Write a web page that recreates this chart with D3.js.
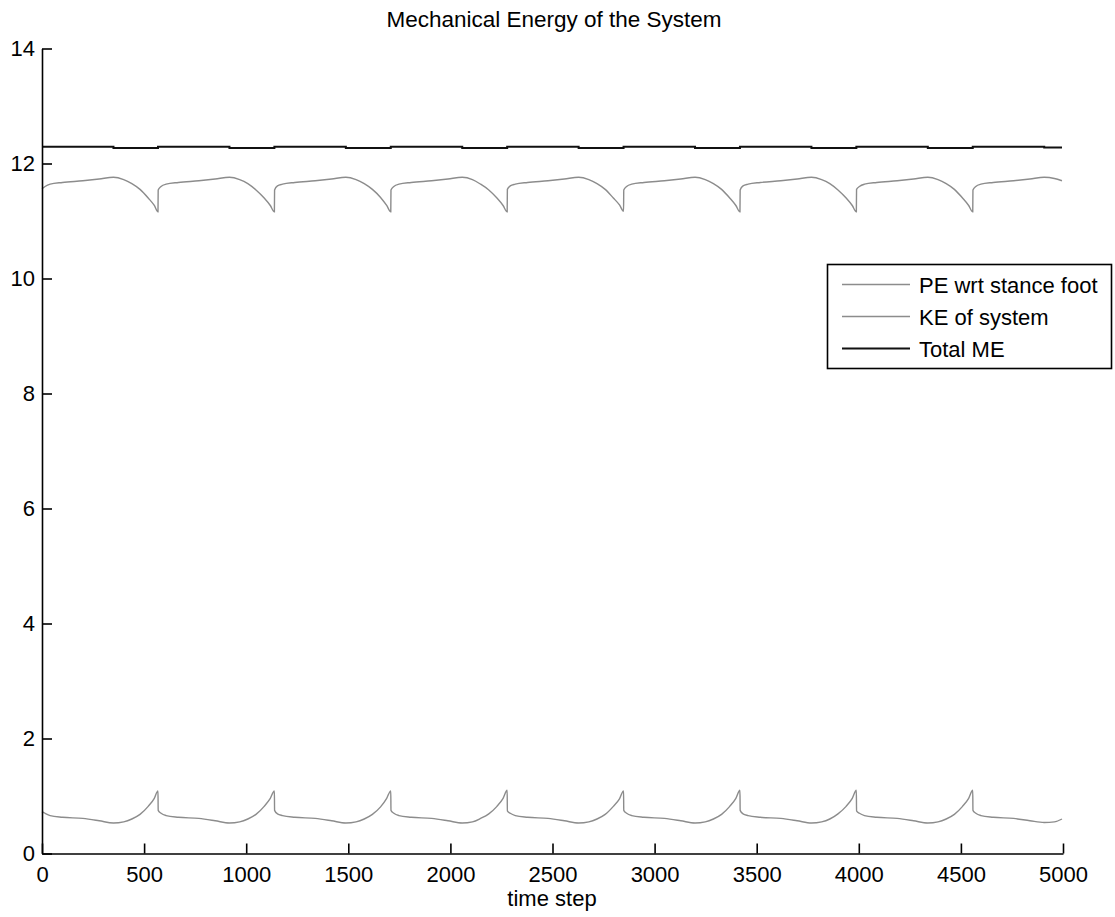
<!DOCTYPE html>
<html>
<head>
<meta charset="utf-8">
<script src="https://cdn.jsdelivr.net/npm/d3@7"></script>
<style>
  html, body { margin: 0; padding: 0; background: #fff; }
  svg { display: block; }
  text { font-family: "Liberation Sans", Arial, Helvetica, sans-serif; fill: #000; }
</style>
</head>
<body>
<svg id="chart" width="1115" height="917"></svg>
<script>
// ---- data ----
const chartTitle = "Mechanical Energy of the System";
const xLabel = "time step";
const seriesNames = ["PE wrt stance foot", "KE of system", "Total ME"];
const xTicks = [0, 500, 1000, 1500, 2000, 2500, 3000, 3500, 4000, 4500, 5000];
const yTicks = [0, 2, 4, 6, 8, 10, 12, 14];

// sample times shared by PE and KE
const timeSteps = [
  0, 15, 40, 100, 200, 280, 350, 400, 440, 480, 520, 550, 568,
  569, 583, 608, 668, 768, 848, 918, 968, 1008, 1048, 1088, 1118, 1138,
  1139, 1153, 1178, 1238, 1338, 1418, 1488, 1538, 1578, 1618, 1658, 1688, 1708,
  1709, 1723, 1748, 1808, 1908, 1988, 2058, 2108, 2148, 2188, 2228, 2258, 2278,
  2279, 2293, 2318, 2378, 2478, 2558, 2628, 2678, 2718, 2758, 2798, 2828, 2848,
  2849, 2863, 2888, 2948, 3048, 3128, 3198, 3248, 3288, 3328, 3368, 3398, 3418,
  3419, 3433, 3458, 3518, 3618, 3698, 3768, 3818, 3858, 3898, 3938, 3968, 3988,
  3989, 4003, 4028, 4088, 4188, 4268, 4338, 4388, 4428, 4468, 4508, 4538, 4558,
  4559, 4573, 4598, 4658, 4758, 4838, 4908, 4958, 4995
];

const peValues = [
  11.56, 11.60, 11.64, 11.67, 11.70, 11.73, 11.76, 11.72, 11.65, 11.55, 11.40, 11.27, 11.16,
  11.54, 11.60, 11.64, 11.67, 11.70, 11.73, 11.76, 11.72, 11.65, 11.54, 11.40, 11.27, 11.16,
  11.54, 11.61, 11.64, 11.67, 11.70, 11.73, 11.76, 11.72, 11.65, 11.55, 11.41, 11.27, 11.16,
  11.54, 11.60, 11.64, 11.67, 11.70, 11.73, 11.76, 11.72, 11.64, 11.54, 11.40, 11.27, 11.16,
  11.55, 11.61, 11.64, 11.67, 11.70, 11.73, 11.76, 11.72, 11.65, 11.55, 11.40, 11.28, 11.17,
  11.54, 11.60, 11.64, 11.67, 11.70, 11.73, 11.76, 11.72, 11.65, 11.55, 11.40, 11.27, 11.16,
  11.54, 11.61, 11.64, 11.67, 11.70, 11.73, 11.76, 11.72, 11.65, 11.54, 11.40, 11.27, 11.16,
  11.55, 11.60, 11.64, 11.67, 11.70, 11.73, 11.76, 11.72, 11.65, 11.55, 11.40, 11.27, 11.16,
  11.54, 11.60, 11.64, 11.67, 11.70, 11.73, 11.76, 11.74, 11.70
];

const keValues = [
  0.73, 0.70, 0.66, 0.63, 0.61, 0.57, 0.53, 0.55, 0.60, 0.68, 0.82, 0.96, 1.09,
  0.75, 0.70, 0.66, 0.63, 0.61, 0.57, 0.53, 0.55, 0.60, 0.68, 0.82, 0.96, 1.09,
  0.75, 0.69, 0.66, 0.63, 0.61, 0.57, 0.53, 0.55, 0.60, 0.68, 0.81, 0.96, 1.09,
  0.75, 0.70, 0.66, 0.63, 0.61, 0.57, 0.53, 0.55, 0.61, 0.69, 0.82, 0.96, 1.10,
  0.74, 0.70, 0.66, 0.63, 0.61, 0.57, 0.53, 0.55, 0.60, 0.68, 0.82, 0.95, 1.09,
  0.75, 0.70, 0.66, 0.63, 0.61, 0.57, 0.53, 0.55, 0.60, 0.68, 0.82, 0.96, 1.10,
  0.75, 0.69, 0.66, 0.63, 0.61, 0.57, 0.53, 0.55, 0.60, 0.69, 0.82, 0.96, 1.10,
  0.74, 0.70, 0.66, 0.63, 0.61, 0.57, 0.53, 0.55, 0.60, 0.68, 0.82, 0.96, 1.10,
  0.75, 0.70, 0.66, 0.63, 0.61, 0.57, 0.54, 0.55, 0.60
];

// total mechanical energy: step levels starting at each listed time
const meTimes = [
  0, 350, 568, 918, 1138, 1488, 1708, 2058, 2278, 2628, 2848, 3198,
  3418, 3768, 3988, 4338, 4558, 4908, 4995
];
const meValues = [
  12.29, 12.27, 12.29, 12.27, 12.29, 12.27, 12.29, 12.27, 12.29, 12.27, 12.29, 12.27,
  12.29, 12.27, 12.29, 12.27, 12.29, 12.28, 12.28
];

// ---- drawing ----
const svg = d3.select("#chart");
const W = 1115, H = 917;
const margin = { left: 42, right: 1115 - 1063, top: 48.5, bottom: 917 - 853.5 };

const x = d3.scaleLinear().domain([0, 5000]).range([margin.left, W - margin.right]);
const y = d3.scaleLinear().domain([0, 14]).range([H - margin.bottom, margin.top]);

svg.append("rect").attr("width", W).attr("height", H).attr("fill", "#fff");

const peData = timeSteps.map((t, i) => ({ t, v: peValues[i] }));
const keData = timeSteps.map((t, i) => ({ t, v: keValues[i] }));
const meData = meTimes.map((t, i) => ({ t, v: meValues[i] }));

const smooth = d3.line().x(d => x(d.t)).y(d => y(d.v)).curve(d3.curveMonotoneX);
const stepLine = d3.line().x(d => x(d.t)).y(d => y(d.v)).curve(d3.curveStepAfter);

const grey = "#8c8c8c";

svg.append("path").datum(peData).attr("d", smooth)
  .attr("fill", "none").attr("stroke", grey).attr("stroke-width", 1.4);
svg.append("path").datum(keData).attr("d", smooth)
  .attr("fill", "none").attr("stroke", grey).attr("stroke-width", 1.4);
svg.append("path").datum(meData).attr("d", stepLine)
  .attr("fill", "none").attr("stroke", "#111").attr("stroke-width", 2);

// axes
const fontSize = 22;
const yAxis = d3.axisLeft(y).tickValues(yTicks).tickFormat(d3.format("d"))
  .tickSizeInner(-10).tickSizeOuter(0).tickPadding(7);
const xAxis = d3.axisBottom(x).tickValues(xTicks).tickFormat(d3.format("d"))
  .tickSizeInner(-10).tickSizeOuter(0).tickPadding(12.5);

const gy = svg.append("g").attr("transform", `translate(${margin.left},0)`).call(yAxis);
const gx = svg.append("g").attr("transform", `translate(0,${H - margin.bottom})`).call(xAxis);
[gx, gy].forEach(g => {
  g.select(".domain").attr("stroke", "#000").attr("stroke-width", 1.6);
  g.selectAll(".tick line").attr("stroke", "#000").attr("stroke-width", 1.6);
  g.selectAll(".tick text").attr("font-size", fontSize)
    .attr("font-family", "'Liberation Sans', Arial, Helvetica, sans-serif").attr("fill", "#000");
});

// title and axis label
svg.append("text").attr("x", 554).attr("y", 27).attr("text-anchor", "middle")
  .attr("font-size", 22.5).text(chartTitle);
svg.append("text").attr("x", 552).attr("y", 906).attr("text-anchor", "middle")
  .attr("font-size", fontSize).text(xLabel);

// legend
const leg = svg.append("g");
leg.append("rect").attr("x", 827.5).attr("y", 264.5).attr("width", 284).attr("height", 104)
  .attr("fill", "#fff").attr("stroke", "#000").attr("stroke-width", 1.6);
const legColors = [grey, grey, "#111"];
const legWidths = [1.4, 1.4, 2];
seriesNames.forEach((name, i) => {
  const cy = 284.5 + i * 32;
  leg.append("line").attr("x1", 842).attr("x2", 910).attr("y1", cy).attr("y2", cy)
    .attr("stroke", legColors[i]).attr("stroke-width", legWidths[i]);
  leg.append("text").attr("x", 919).attr("y", cy + 8).attr("font-size", fontSize).text(name);
});
</script>
</body>
</html>
